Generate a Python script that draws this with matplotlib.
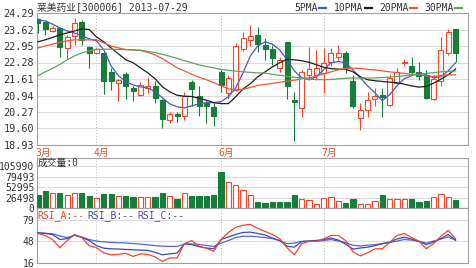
import matplotlib
matplotlib.use('Agg')
import matplotlib.pyplot as plt
from matplotlib.patches import Rectangle
from matplotlib.lines import Line2D

title = '莱美药业[300006] 2013-07-29'
month_labels = ['3月', '4月', '6月', '7月']
month_idx = [0, 8, 25, 39]

opens = [24.05, 23.94, 23.57, 23.67, 22.86, 23.36, 23.94, 22.90, 22.68, 22.66,
         21.91, 21.44, 21.82, 21.24, 20.97, 21.25, 21.33, 20.74, 19.93, 20.20,
         20.09, 21.47, 20.93, 20.65, 20.48, 21.91, 21.04, 21.17, 22.82, 23.20,
         23.40, 22.99, 22.82, 22.05, 23.10, 20.77, 20.43, 21.78, 21.78, 21.85,
         22.32, 22.50, 22.66, 21.51, 20.03, 20.36, 20.80, 20.97, 20.57, 21.44,
         22.27, 22.14, 21.91, 21.78, 20.80, 21.51, 22.66, 23.63]
highs = [24.08, 23.98, 23.76, 23.71, 23.40, 24.08, 24.01, 22.95, 22.90, 22.71,
         22.06, 21.62, 21.91, 21.33, 21.50, 21.70, 21.51, 20.81, 20.29, 20.29,
         21.10, 21.58, 21.31, 20.77, 20.65, 21.98, 21.78, 23.06, 23.53, 23.80,
         23.74, 23.28, 22.99, 22.51, 23.13, 21.10, 21.98, 22.90, 22.79, 22.87,
         22.86, 22.99, 22.75, 21.78, 20.63, 21.10, 21.24, 21.24, 21.82, 22.05,
         22.43, 22.50, 22.32, 21.98, 21.78, 23.33, 23.63, 23.64]
lows = [23.48, 23.40, 23.53, 22.52, 22.42, 22.99, 22.99, 22.05, 22.65, 21.01,
        21.17, 20.73, 20.81, 20.70, 20.93, 21.05, 20.63, 19.62, 19.82, 19.85,
        19.96, 20.50, 20.09, 19.84, 19.69, 21.10, 20.80, 21.13, 22.75, 22.93,
        22.71, 22.39, 22.18, 21.90, 20.80, 19.08, 20.07, 21.58, 21.58, 21.04,
        22.12, 22.39, 21.85, 20.43, 19.55, 20.07, 20.50, 20.07, 20.53, 21.42,
        22.12, 21.78, 21.58, 20.81, 20.77, 21.31, 22.59, 22.32]
closes = [23.87, 23.63, 23.67, 22.90, 23.31, 23.87, 23.20, 22.68, 22.82, 21.51,
          21.51, 21.58, 21.31, 21.14, 21.38, 21.33, 20.84, 19.99, 20.20, 20.09,
          20.90, 21.20, 20.50, 20.53, 20.09, 21.37, 21.65, 22.93, 23.27, 23.36,
          23.04, 22.83, 22.46, 22.39, 21.33, 20.66, 21.91, 22.01, 22.05, 22.25,
          22.66, 22.66, 22.05, 20.50, 20.36, 20.74, 20.93, 20.86, 21.65, 21.91,
          22.29, 21.91, 21.74, 20.84, 21.61, 22.79, 23.53, 22.68]

ma5 = [24.01, 23.97, 23.84, 23.68, 23.56, 23.48, 23.36, 23.24, 23.16, 22.79,
       22.14, 21.74, 21.50, 21.37, 21.29, 21.25, 21.09, 20.85, 20.60, 20.48,
       20.44, 20.52, 20.60, 20.65, 20.65, 20.69, 20.89, 21.25, 21.86, 22.55,
       22.95, 23.12, 23.03, 22.79, 22.39, 21.94, 21.66, 21.58, 21.70, 21.98,
       22.27, 22.32, 22.27, 21.98, 21.66, 21.33, 21.05, 20.73, 20.97, 21.33,
       21.62, 21.74, 21.86, 21.78, 21.66, 21.70, 21.94, 22.27]
ma10 = [23.12, 23.20, 23.30, 23.40, 23.48, 23.56, 23.64, 23.62, 23.32, 23.12,
        22.87, 22.63, 22.39, 22.27, 22.06, 21.86, 21.62, 21.29, 21.09, 20.95,
        20.91, 20.90, 20.83, 20.75, 20.65, 20.61, 20.61, 20.89, 21.21, 21.42,
        21.70, 21.90, 22.10, 22.27, 22.41, 22.39, 22.35, 22.29, 22.19, 22.09,
        22.03, 22.01, 22.01, 21.90, 21.70, 21.58, 21.54, 21.51, 21.48, 21.46,
        21.40, 21.33, 21.28, 21.31, 21.44, 21.60, 21.78, 22.02]
ma20 = [22.87, 22.95, 23.03, 23.10, 23.16, 23.20, 23.20, 23.20, 23.20, 23.08,
        22.95, 22.87, 22.81, 22.79, 22.77, 22.69, 22.59, 22.43, 22.25, 22.06,
        21.94, 21.80, 21.68, 21.58, 21.46, 21.33, 21.21, 21.17, 21.19, 21.27,
        21.35, 21.39, 21.43, 21.48, 21.52, 21.56, 21.62, 21.66, 21.72, 21.82,
        21.90, 21.98, 22.04, 22.05, 22.04, 22.00, 21.98, 21.94, 21.90, 21.87,
        21.84, 21.80, 21.78, 21.74, 21.71, 21.76, 21.78, 21.78]
ma30 = [21.74, 21.90, 22.04, 22.20, 22.39, 22.55, 22.67, 22.75, 22.81, 22.82,
        22.82, 22.81, 22.80, 22.79, 22.78, 22.73, 22.68, 22.61, 22.53, 22.45,
        22.35, 22.27, 22.18, 22.12, 22.06, 22.00, 21.96, 21.93, 21.90, 21.88,
        21.86, 21.85, 21.80, 21.76, 21.72, 21.68, 21.64, 21.60, 21.59, 21.58,
        21.59, 21.62, 21.64, 21.65, 21.65, 21.65, 21.65, 21.67, 21.69, 21.71,
        21.74, 21.77, 21.80, 21.83, 21.87, 21.90, 21.92, 21.94]

volume = [33700, 42100, 38800, 38800, 33700, 38800, 37800, 30100, 26000, 34500,
          34500, 31200, 30100, 26800, 26800, 26800, 26800, 37800, 30100, 22500,
          37800, 29400, 29400, 31200, 33700, 90700, 65900, 59300, 44700, 31900,
          14800, 12300, 14800, 14800, 14800, 31900, 21700, 19200, 8900, 25000,
          27600, 17400, 12300, 21700, 10700, 10700, 17400, 33700, 21700, 21700,
          21700, 21700, 14800, 17400, 27600, 36300, 27600, 20900]
vol_up = [0, 0, 1, 0, 1, 1, 0, 0, 1, 0, 0, 1, 0, 0, 1, 1, 0, 0, 1, 0,
          1, 0, 0, 0, 0, 0, 1, 1, 1, 1, 0, 0, 0, 0, 0, 0, 1, 1, 1, 1,
          1, 1, 0, 0, 1, 1, 1, 0, 1, 1, 1, 0, 0, 0, 1, 1, 1, 0]

rsi_a = [59.3, 56.4, 50.5, 38.6, 49.0, 57.9, 53.4, 41.6, 38.6, 31.2,
         28.3, 29.0, 30.5, 26.0, 29.7, 29.0, 25.3, 18.7, 23.8, 23.8,
         44.5, 49.0, 40.8, 37.9, 33.4, 50.5, 60.8, 68.2, 71.2, 72.6,
         66.7, 62.3, 57.9, 51.9, 38.6, 28.3, 44.5, 47.9, 47.9, 51.5,
         56.4, 56.4, 49.0, 32.7, 26.8, 31.2, 37.1, 37.1, 46.0, 56.4,
         59.3, 53.4, 48.2, 37.1, 44.5, 55.4, 63.8, 51.9]
rsi_b = [60.4, 59.3, 57.9, 50.5, 51.9, 56.8, 53.4, 49.0, 41.6, 37.9,
         37.1, 36.7, 36.1, 35.7, 35.2, 34.8, 32.0, 28.3, 29.7, 30.8,
         44.5, 43.1, 40.1, 38.2, 37.1, 50.5, 54.2, 57.9, 60.8, 61.3,
         59.3, 57.1, 52.7, 49.0, 40.8, 39.4, 47.5, 48.5, 49.2, 50.5,
         52.7, 49.7, 43.8, 36.7, 38.2, 39.4, 41.6, 44.5, 46.8, 51.2,
         53.9, 51.2, 47.9, 43.1, 46.8, 52.0, 57.9, 49.7]
rsi_c = [60.4, 59.6, 58.9, 55.6, 53.4, 56.7, 54.2, 50.5, 48.3, 47.1,
         46.4, 45.9, 45.5, 44.7, 44.0, 42.8, 41.6, 40.8, 40.5, 40.5,
         43.8, 44.1, 43.4, 41.9, 40.5, 45.3, 49.0, 53.4, 55.3, 55.3,
         54.4, 53.4, 51.9, 49.0, 44.5, 45.3, 47.9, 47.9, 47.9, 49.0,
         50.5, 48.3, 46.0, 42.3, 41.1, 42.3, 43.1, 44.5, 46.3, 48.3,
         50.5, 49.7, 47.9, 45.3, 48.3, 51.2, 54.4, 49.4]

price_ticks = [18.93, 19.60, 20.27, 20.94, 21.61, 22.28, 22.95, 23.62, 24.29]
vol_ticks = [0, 26498, 52995, 79493, 105990]
rsi_ticks = [16, 48, 79]

RED = '#f0482a'
GREEN = '#177d3a'
BLUE = '#4858c8'
MA_COLORS = [BLUE, '#1e1e1e', '#f0563a', '#5fa35f']
GRID = '#d9d9d9'
SPINE = '#a0a0a0'
TXT = '#333333'
MONO = 'DejaVu Sans Mono'
FAM = [MONO, 'Noto Sans CJK SC']

W, H = 476, 268
fig = plt.figure(figsize=(W / 100, H / 100), dpi=100)
fig.patch.set_facecolor('white')


def box(x0, y0, x1, y1):
    return [x0 / W, 1 - y1 / H, (x1 - x0) / W, (y1 - y0) / H]


def ftext(x, y, s, **kw):
    fig.text(x / W, 1 - y / H, s, va='center', **kw)


n = len(opens)
xs = list(range(n))
XL = (-0.12, 58.7)

ax = fig.add_axes(box(37, 13, 468, 145))
ax_v = fig.add_axes(box(37, 158, 468, 208))
ax_r = fig.add_axes(box(37, 208, 468, 263.3))

for a in (ax, ax_v, ax_r):
    a.set_xlim(*XL)
    a.set_xticks([])
    for s in a.spines.values():
        s.set_color(SPINE)
        s.set_linewidth(0.8)
    a.tick_params(axis='y', length=0, pad=2, labelsize=7, labelcolor=TXT)
    for lab in a.get_yticklabels():
        lab.set_family(MONO)
    for m in month_idx[1:]:
        a.axvline(m, color='#b8b8b8', lw=0.7, ls=(0, (1, 2)), zorder=0.5)

# main price panel
ax.set_ylim(price_ticks[0], price_ticks[-1])
ax.set_yticks(price_ticks)
ax.set_yticklabels(['%.2f' % t for t in price_ticks], family=MONO, fontsize=7.3, color=TXT)
for t in price_ticks[1:-1]:
    ax.axhline(t, color=GRID, lw=0.7, zorder=0.5)

bw = 0.68
for i in xs:
    o, h, l, c = opens[i], highs[i], lows[i], closes[i]
    up = c >= o
    col = RED if up else GREEN
    ax.vlines(i, l, h, color=col, lw=0.8, zorder=2)
    bot = min(o, c)
    hgt = max(abs(c - o), 0.02)
    ax.add_patch(Rectangle((i - bw / 2, bot), bw, hgt,
                           facecolor='white' if up else GREEN,
                           edgecolor=col, lw=0.8, zorder=3))

for ser, col in zip([ma5, ma10, ma20, ma30], MA_COLORS):
    ax.plot(xs, ser, color=col, lw=0.9, zorder=4)

# volume panel
ax_v.set_ylim(0, 126200)
ax_v.set_yticks(vol_ticks)
ax_v.set_yticklabels([str(t) for t in vol_ticks], family=MONO, fontsize=7, color=TXT)
for t in vol_ticks[1:]:
    ax_v.axhline(t, color=GRID, lw=0.7, zorder=0.5)
for i in xs:
    up = vol_up[i] == 1
    ax_v.bar(i, volume[i], width=0.72, bottom=0,
             facecolor='white' if up else GREEN,
             edgecolor=RED if up else GREEN, lw=0.8, zorder=3)

# RSI panel
ax_r.set_ylim(16, 96.3)
ax_r.set_yticks(rsi_ticks)
ax_r.set_yticklabels([str(t) for t in rsi_ticks], family=MONO, fontsize=7, color=TXT)
for t in rsi_ticks[1:]:
    ax_r.axhline(t, color=GRID, lw=0.7, zorder=0.5)
ax_r.plot(xs, rsi_c, color='#5a68c8', lw=0.9, zorder=3)
ax_r.plot(xs, rsi_b, color='#3a48b8', lw=0.9, zorder=3)
ax_r.plot(xs, rsi_a, color=RED, lw=0.9, zorder=4)

# texts
ftext(37, 8, title, family=FAM, fontsize=7, color=TXT)
legend_items = [('5PMA', 294), ('10PMA', 334), ('20PMA', 379), ('30PMA', 424)]
for (lab, x0), col in zip(legend_items, MA_COLORS):
    ftext(x0, 8, lab, family=MONO, fontsize=7, color=TXT)
    x1 = x0 + len(lab) * 5.85 + 2
    fig.add_artist(Line2D([x1 / W, (x1 + 7) / W], [1 - 8 / H, 1 - 8 / H],
                          color=col, lw=1.6, transform=fig.transFigure))

for lab, m in zip(month_labels, month_idx):
    ax.text(m + 0.7, -0.06, lab, transform=ax.get_xaxis_transform(),
            ha='center', va='center', family=FAM, fontsize=7, color='#e8502e')

ftext(38, 163, '成交量:0', family=FAM, fontsize=7, color=TXT)
rsi_labels = [('RSI_A:--', 37, RED), ('RSI_B:--', 87, '#4a4ab8'), ('RSI_C:--', 137, '#4a4ab8')]
for lab, x0, col in rsi_labels:
    ftext(x0, 215.5, lab, family=MONO, fontsize=7, color=col)

fig.savefig('out.png', dpi=100, facecolor='white')
